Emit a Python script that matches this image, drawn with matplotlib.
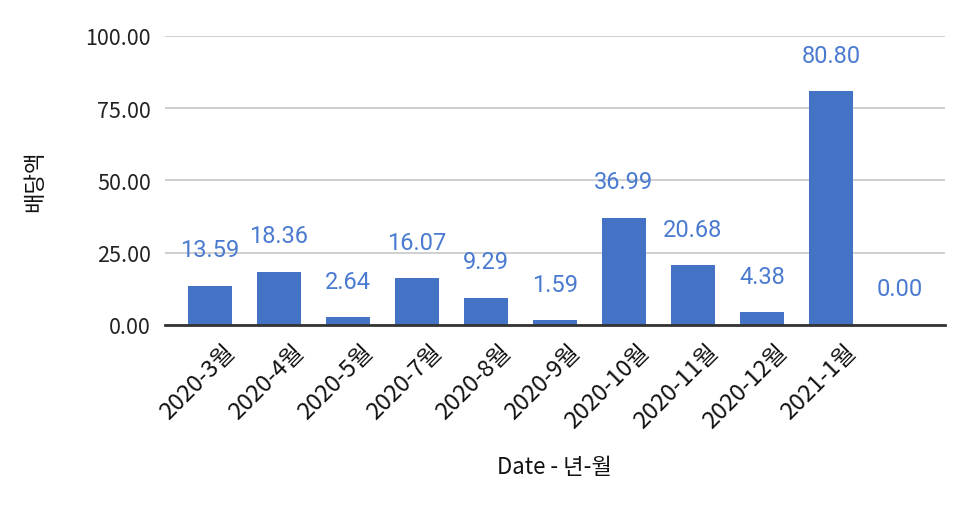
import matplotlib
matplotlib.use("Agg")
import matplotlib.pyplot as plt
import matplotlib.transforms as mtransforms

plt.rcParams['font.family'] = ['Noto Sans CJK KR', 'DejaVu Sans']

# 데이터
months = ['2020-3월', '2020-4월', '2020-5월', '2020-7월', '2020-8월', '2020-9월',
          '2020-10월', '2020-11월', '2020-12월', '2021-1월', '']
dividends = [13.59, 18.36, 2.64, 16.07, 9.29, 1.59, 36.99, 20.68, 4.38, 80.80, 0.00]
yticks = [0, 25, 50, 75, 100]

bar_color = '#4472c4'
label_color = '#4a7bd0'

fig = plt.figure(figsize=(9.7, 5.06), dpi=100)
ax = fig.add_axes([0.170, 0.356, 0.804, 0.571])

x = list(range(len(months)))
ax.bar(x, dividends, width=0.64, color=bar_color, zorder=2)

# 값 라벨
for xi, v in zip(x, dividends):
    ax.annotate(f'{v:.2f}', (xi, v), xytext=(0, 26), textcoords='offset points',
                ha='center', va='center', fontsize=17, color=label_color,
                family=['Roboto', 'DejaVu Sans'])

ax.set_xlim(-0.65, 10.65)
ax.set_ylim(0, 100)
ax.set_yticks(yticks)
ax.set_yticklabels([f'{t:.2f}' for t in yticks], fontsize=15.5, color='#222222')
ax.yaxis.grid(True, color='#cccccc', lw=1.3, zorder=0)
ax.set_axisbelow(True)
ax.tick_params(axis='both', length=0)
ax.tick_params(axis='y', pad=10)

for s in ['left', 'right', 'top']:
    ax.spines[s].set_visible(False)
ax.spines['bottom'].set_color('#333333')
ax.spines['bottom'].set_linewidth(2)
ax.spines['bottom'].set_zorder(3)

ax.set_xticks(x)
ax.set_xticklabels(months, rotation=45, ha='right', va='center',
                   rotation_mode='anchor', fontsize=17, color='#111111')
offset = mtransforms.ScaledTranslation(22 / 100, -18 / 100, fig.dpi_scale_trans)
for lbl in ax.get_xticklabels():
    lbl.set_transform(lbl.get_transform() + offset)

ax.set_xlabel('Date - 년-월', fontsize=16, color='#111111', labelpad=16)
ax.set_ylabel('배당액', fontsize=16, color='#111111', labelpad=28)

fig.savefig('out.png', dpi=100)
